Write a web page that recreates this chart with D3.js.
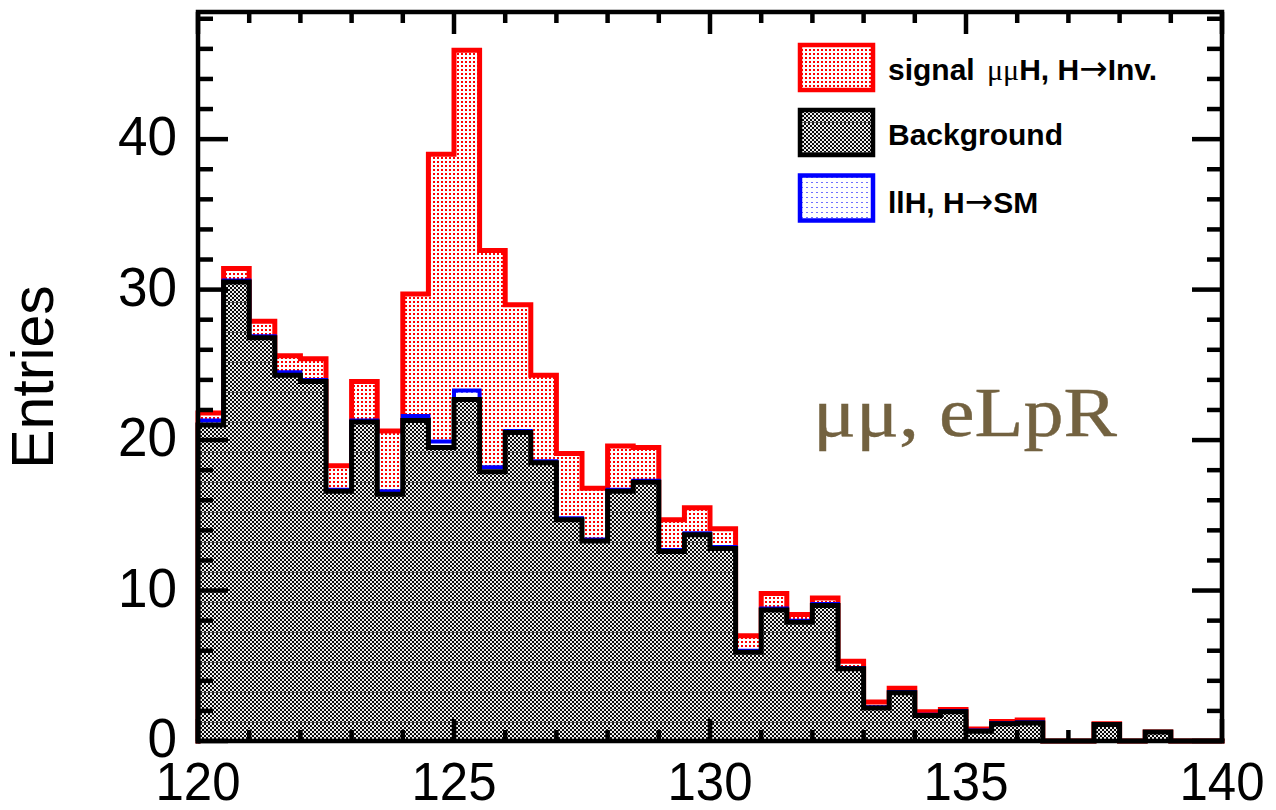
<!DOCTYPE html>
<html>
<head>
<meta charset="utf-8">
<script src="https://cdn.jsdelivr.net/npm/d3@7"></script>
<style>
  body { margin: 0; background: #fff; }
  svg { display: block; }
</style>
</head>
<body>
<svg id="chart" width="1276" height="810"></svg>
<script>
// Dimuon recoil mass histogram, 0.5 GeV bins from 120 to 140
const xTicks = [120, 125, 130, 135, 140];
const yTicks = [0, 10, 20, 30, 40];
const binLow = 120, binHigh = 140, binWidth = 0.5;

// bin contents per sample (stacked: background, then llH SM, then signal)
const background = [21.0, 30.5, 26.8, 24.3, 23.9, 16.6, 21.2, 16.4, 21.3, 19.5,
                    22.7, 17.9, 20.5, 18.5, 14.7, 13.3, 16.6, 17.2, 12.6, 13.7,
                    12.8, 5.9, 8.7, 7.9, 9.0, 4.8, 2.2, 3.2, 1.7, 1.95,
                    0.65, 1.15, 1.2, 0, 0, 1.1, 0, 0.6, 0, 0];
const llhSM      = [0.3, 0.1, 0.1, 0.2, 0.1, 0.1, 0.1, 0.2, 0.3, 0.4,
                    0.6, 0.3, 0.1, 0.1, 0.1, 0.1, 0.1, 0.1, 0.1, 0.1,
                    0.1, 0.1, 0.1, 0.1, 0.1, 0.05, 0.05, 0.05, 0.05, 0.05,
                    0.05, 0.05, 0.05, 0, 0, 0, 0, 0, 0, 0];
const signal     = [0.5, 0.8, 1.0, 1.1, 1.4, 1.6, 2.6, 4.0, 8.1, 19.1,
                    22.6, 14.4, 8.4, 5.7, 4.3, 3.4, 2.9, 2.2, 2.0, 1.7,
                    1.2, 1.0, 1.0, 0.4, 0.4, 0.45, 0.35, 0.25, 0.2, 0.1,
                    0.1, 0.1, 0.15, 0, 0, 0.05, 0, 0, 0, 0];

const legendLabels = ["signal", "Background", "llH, H\u2192SM"];
const tagText = "\u03bc\u03bc, eLpR";

const svg = d3.select("#chart");
const plot = { left: 198, right: 1222, top: 12, bottom: 741 };

const x = d3.scaleLinear().domain([binLow, binHigh]).range([plot.left, plot.right]);
const y = d3.scaleLinear().domain([0, 48.45]).range([plot.bottom, plot.top]);

// ---- fill patterns ----
const defs = svg.append("defs");

const pRed = defs.append("pattern").attr("id", "dotsRed")
  .attr("patternUnits", "userSpaceOnUse").attr("width", 4).attr("height", 4);
pRed.append("rect").attr("width", 4).attr("height", 4).attr("fill", "#fff");
pRed.append("rect").attr("x", 1).attr("y", 1).attr("width", 2).attr("height", 2).attr("fill", "#ff0000");

const pBlue = defs.append("pattern").attr("id", "dotsBlue")
  .attr("patternUnits", "userSpaceOnUse").attr("width", 5).attr("height", 5);
pBlue.append("rect").attr("width", 5).attr("height", 5).attr("fill", "#fff");
pBlue.append("rect").attr("x", 1).attr("y", 2).attr("width", 2).attr("height", 1).attr("fill", "#7070ff");

const pChk = defs.append("pattern").attr("id", "checker")
  .attr("patternUnits", "userSpaceOnUse").attr("width", 4).attr("height", 30)
  .attr("patternTransform", "translate(0,3)");
pChk.append("rect").attr("width", 4).attr("height", 30).attr("fill", "#eeeeee");
for (let r = 0; r < 30; r += 2) {
  pChk.append("rect").attr("x", (r / 2) % 2 === 0 ? 0 : 2).attr("y", r)
    .attr("width", 2).attr("height", 2).attr("fill", "#0a0a0a");
}
pChk.append("rect").attr("y", 29).attr("width", 4).attr("height", 1).attr("fill", "#444").attr("opacity", 0.8);

// ---- stacked levels ----
const lvBkg = background.slice();
const lvSM = lvBkg.map((v, i) => v + llhSM[i]);
const lvTot = lvSM.map((v, i) => v + signal[i]);

function steps(vals) {
  const pts = [[binLow, 0]];
  vals.forEach((v, i) => {
    const lo = binLow + i * binWidth;
    pts.push([lo, v], [lo + binWidth, v]);
  });
  pts.push([binHigh, 0]);
  return pts;
}
const line = d3.line().x(d => x(d[0])).y(d => y(d[1]));
const area = d3.area().x(d => x(d[0])).y0(y(0)).y1(d => y(d[1]));

// drawn top of stack first so lower samples cover it
const layers = [
  { vals: lvTot, fill: "url(#dotsRed)", stroke: "#ff0000", width: 5 },
  { vals: lvSM,  fill: "url(#dotsBlue)", stroke: "#0000ff", width: 4 },
  { vals: lvBkg, fill: "url(#checker)", stroke: "#000000", width: 5 }
];
const gHist = svg.append("g");
layers.forEach(L => {
  const pts = steps(L.vals);
  gHist.append("path").attr("d", area(pts)).attr("fill", "#fff");
  gHist.append("path").attr("d", area(pts)).attr("fill", L.fill);
  gHist.append("path").attr("d", line(pts)).attr("fill", "none")
    .attr("stroke", L.stroke).attr("stroke-width", L.width)
    .attr("stroke-linejoin", "miter").attr("stroke-linecap", "square");
});

// ---- axes and frame ----
const gAx = svg.append("g");
const yMinor = d3.range(0, 48.4, 2).filter(v => v % 10 !== 0);
const xMinor = d3.range(binLow, binHigh + 0.001, 1).filter(v => v % 5 !== 0);

function tickLines(vals, len, side) {
  vals.forEach(v => {
    if (side === "left")   gAx.append("line").attr("x1", plot.left).attr("x2", plot.left + len).attr("y1", y(v)).attr("y2", y(v));
    if (side === "right")  gAx.append("line").attr("x1", plot.right).attr("x2", plot.right - len).attr("y1", y(v)).attr("y2", y(v));
    if (side === "bottom") gAx.append("line").attr("x1", x(v)).attr("x2", x(v)).attr("y1", plot.bottom).attr("y2", plot.bottom - len);
    if (side === "top")    gAx.append("line").attr("x1", x(v)).attr("x2", x(v)).attr("y1", plot.top).attr("y2", plot.top + len);
  });
}
tickLines(yTicks, 30, "left"); tickLines(yMinor, 15, "left");
tickLines(yTicks, 30, "right"); tickLines(yMinor, 15, "right");
tickLines(xTicks, 22, "bottom"); tickLines(xMinor, 11, "bottom");
tickLines(xTicks, 22, "top"); tickLines(xMinor, 11, "top");
gAx.selectAll("line").attr("stroke", "#000").attr("stroke-width", 4.5);

svg.append("rect")
  .attr("x", plot.left).attr("y", plot.top)
  .attr("width", plot.right - plot.left).attr("height", plot.bottom - plot.top)
  .attr("fill", "none").attr("stroke", "#000").attr("stroke-width", 4.5);

const labelFont = "'Liberation Sans', Arial, Helvetica, sans-serif";

// tick labels
svg.append("g").selectAll("text").data(yTicks).join("text")
  .attr("transform", d => `translate(177,${y(d) + 16}) scale(1.04,1.08)`)
  .attr("text-anchor", "end")
  .style("font-family", labelFont).style("font-size", "51px")
  .text(d => d);

svg.append("g").selectAll("text").data(xTicks).join("text")
  .attr("transform", d => `translate(${x(d)},800) scale(1,1.07)`)
  .attr("text-anchor", "middle")
  .style("font-family", labelFont).style("font-size", "51px")
  .text(d => d);

// y-axis title
svg.append("text")
  .attr("transform", "translate(53,377) rotate(-90)")
  .attr("text-anchor", "middle")
  .style("font-family", labelFont).style("font-size", "59px")
  .text("Entries");

// channel tag
svg.append("text")
  .attr("x", 813).attr("y", 436)
  .attr("textLength", 304).attr("lengthAdjust", "spacingAndGlyphs")
  .style("font-family", "'Palatino Linotype', Palatino, 'Liberation Serif', serif")
  .style("font-size", "70px").attr("fill", "#736240")
  .attr("stroke", "#736240").attr("stroke-width", 0.4)
  .text(tagText);

// ---- legend ----
const legend = svg.append("g");
const legendItems = [
  { fill: "url(#dotsRed)", stroke: "#ff0000", cy: 67.5 },
  { fill: "url(#checker)", stroke: "#000000", cy: 132.5 },
  { fill: "url(#dotsBlue)", stroke: "#0000ff", cy: 198 }
];
legendItems.forEach(it => {
  legend.append("rect").attr("x", 800).attr("y", it.cy - 22.5)
    .attr("width", 73).attr("height", 45).attr("fill", "#fff");
  legend.append("rect").attr("x", 800).attr("y", it.cy - 22.5)
    .attr("width", 73).attr("height", 45).attr("fill", it.fill)
    .attr("stroke", it.stroke).attr("stroke-width", 4.5);
});

const arrowFont = "'DejaVu Sans', sans-serif";

const lt0 = legend.append("text").attr("x", 888).attr("y", 80)
  .style("font-family", labelFont).style("font-size", "30px").style("font-weight", "bold");
lt0.append("tspan").text(legendLabels[0] + " ");
lt0.append("tspan").style("font-family", "'Liberation Serif', serif").style("font-weight", "normal")
  .attr("dx", 4).text("\u03bc\u03bc");
lt0.append("tspan").text("H, H");
lt0.append("tspan").style("font-family", arrowFont).style("font-weight", "normal")
  .style("font-size", "34px").text("\u2192");
lt0.append("tspan").text("Inv.");

legend.append("text").attr("x", 888).attr("y", 145)
  .style("font-family", labelFont).style("font-size", "30px").style("font-weight", "bold")
  .text(legendLabels[1]);

const lt2 = legend.append("text").attr("x", 888).attr("y", 213)
  .style("font-family", labelFont).style("font-size", "30px").style("font-weight", "bold");
lt2.append("tspan").text("llH, H");
lt2.append("tspan").style("font-family", arrowFont).style("font-weight", "normal")
  .style("font-size", "34px").text("\u2192");
lt2.append("tspan").text("SM");
</script>
</body>
</html>
